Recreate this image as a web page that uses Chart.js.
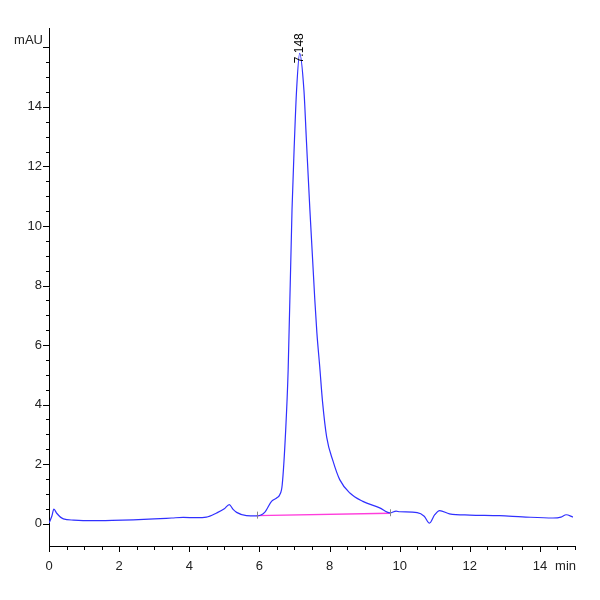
<!DOCTYPE html>
<html>
<head>
<meta charset="utf-8">
<script src="https://cdn.jsdelivr.net/npm/chart.js@4"></script>
<style>
  html, body { margin: 0; padding: 0; background: #fff; }
  #wrap { width: 600px; height: 600px; }
</style>
</head>
<body>
<div id="wrap"><canvas id="chrom" width="600" height="600"></canvas></div>
<script>
    "use strict";

    // Trace (min, mAU)
    var times = [0.00, 0.08, 0.14, 0.22, 0.41, 0.70, 1.17, 1.80, 2.40, 3.00, 3.50, 3.83, 4.20, 4.49,
        4.78, 5.00, 5.14, 5.25, 5.35, 5.63, 5.92, 6.15, 6.345, 6.50, 6.58, 6.65, 6.75,
        6.82, 6.93, 7.00, 7.06, 7.148, 7.27, 7.34, 7.44, 7.58, 7.64, 7.72, 7.80, 7.92, 8.10, 8.29,
        8.58, 8.95, 9.43, 9.72, 9.90, 10.00, 10.50, 10.70, 10.85, 11.00, 11.14, 11.42, 12.00, 12.85,
        13.50, 14.37, 14.60, 14.75, 14.94];
    var absorbance = [0.02, 0.25, 0.49, 0.35, 0.16, 0.12, 0.10, 0.11, 0.13, 0.16, 0.19, 0.21, 0.20, 0.22,
        0.36, 0.50, 0.64, 0.48, 0.38, 0.27, 0.26, 0.38, 0.75, 0.87, 0.97, 1.30, 3.15,
        5.17, 10.54, 12.89, 14.56, 15.8, 14.56, 12.89, 10.54, 7.52, 6.40, 5.28, 4.10, 2.90, 2.10, 1.48,
        1.03, 0.75, 0.53, 0.36, 0.42, 0.40, 0.37, 0.25, 0.02, 0.30, 0.44, 0.33, 0.29, 0.27,
        0.23, 0.19, 0.22, 0.30, 0.22];

    // Integration baseline
    var baseTimes = [5.92, 9.72];
    var baseValues = [0.27, 0.35];

    var peakTime = 7.148;
    var peakValue = 15.8;

    var font = "'Liberation Sans Narrow', 'Liberation Sans', Arial, sans-serif";

    function toPoints(xs, ys) {
        return xs.map(function (x, i) { return {x: x, y: ys[i]}; });
    }

    // Tick marks, unit labels, peak label
    var decorations = {
        id: 'decorations',
        afterDraw: function (chart) {
            var ctx = chart.ctx;
            var xs = chart.scales.x, ys = chart.scales.y;
            var area = chart.chartArea;
            ctx.save();
            ctx.strokeStyle = '#000';
            ctx.lineWidth = 1;
            ctx.beginPath();
            xs.ticks.forEach(function (t) {
                if (Math.abs(t.value * 2 - Math.round(t.value * 2)) > 1e-6) return;
                var px = Math.round(xs.getPixelForValue(t.value)) + 0.5;
                var len = (Math.abs(t.value % 2) < 1e-6) ? 6 : 4;
                ctx.moveTo(px, area.bottom);
                ctx.lineTo(px, area.bottom + len);
            });
            ys.ticks.forEach(function (t) {
                if (Math.abs(t.value * 2 - Math.round(t.value * 2)) > 1e-6) return;
                var py = Math.round(ys.getPixelForValue(t.value)) + 0.5;
                var len = (Math.abs(t.value % 2) < 1e-6) ? 6 : 3;
                ctx.moveTo(area.left, py);
                ctx.lineTo(area.left - len, py);
            });
            ctx.stroke();

            ctx.fillStyle = '#222';
            ctx.font = '13px ' + font;
            ctx.textAlign = 'right';
            ctx.textBaseline = 'middle';
            ctx.fillText('mAU', area.left - 6, ys.getPixelForValue(16) - 7);
            ctx.fillText('min', area.right + 1, area.bottom + 20);

            // baseline end markers
            ctx.strokeStyle = '#888';
            ctx.beginPath();
            baseTimes.forEach(function (t, i) {
                var px = Math.round(xs.getPixelForValue(t)) + 0.5;
                var py = ys.getPixelForValue(baseValues[i]);
                ctx.moveTo(px, py - 4);
                ctx.lineTo(px, py + 3);
            });
            ctx.stroke();

            // peak retention time
            var ppx = xs.getPixelForValue(peakTime);
            var ppy = ys.getPixelForValue(peakValue);
            ctx.translate(ppx, ppy + 10);
            ctx.rotate(-Math.PI / 2);
            ctx.fillStyle = '#000';
            ctx.font = '12px ' + font;
            ctx.textAlign = 'left';
            ctx.textBaseline = 'middle';
            ctx.fillText(peakTime.toFixed(3), 0, 0);
            ctx.restore();
        }
    };

    var ctx1 = document.getElementById('chrom').getContext('2d');
    var chromChart = new Chart(ctx1, {
        type: 'line',
        data: {
            datasets: [{
                label: 'Trace',
                data: toPoints(times, absorbance),
                borderColor: '#3030ff',
                borderWidth: 1.2,
                pointRadius: 0,
                fill: false,
                tension: 0.4,
                cubicInterpolationMode: 'monotone'
            }, {
                label: 'Baseline',
                data: toPoints(baseTimes, baseValues),
                borderColor: '#ff3ddc',
                borderWidth: 1.3,
                pointRadius: 0,
                fill: false
            }]
        },
        options: {
            responsive: false,
            animation: false,
            parsing: false,
            layout: {padding: {top: 28, right: 25, left: 0, bottom: 0}},
            plugins: {
                legend: {display: false},
                tooltip: {enabled: false}
            },
            scales: {
                x: {
                    type: 'linear',
                    min: 0,
                    max: 15,
                    afterFit: function (s) { s.height = 54; },
                    border: {display: true, color: '#000', width: 1},
                    grid: {display: true, drawOnChartArea: false, drawTicks: true, tickLength: 6, tickColor: 'rgba(0,0,0,0)'},
                    ticks: {
                        stepSize: 0.5,
                        autoSkip: false,
                        maxRotation: 0,
                        padding: 7,
                        color: '#222',
                        font: {family: font, size: 13},
                        callback: function (v) {
                            return (Math.abs(v % 2) < 1e-6 && v <= 14) ? String(v) : '';
                        }
                    }
                },
                y: {
                    type: 'linear',
                    min: -0.75,
                    max: 16.65,
                    afterFit: function (s) { s.width = 49; },
                    border: {display: true, color: '#000', width: 1},
                    grid: {display: true, drawOnChartArea: false, drawTicks: true, tickLength: 6, tickColor: 'rgba(0,0,0,0)'},
                    ticks: {
                        stepSize: 0.5,
                        autoSkip: false,
                        padding: 1,
                        color: '#222',
                        font: {family: font, size: 13},
                        callback: function (v) {
                            return (Math.abs(v % 2) < 1e-6 && v >= 0 && v <= 14) ? String(v) : '';
                        }
                    }
                }
            }
        },
        plugins: [decorations]
    });
</script>
</body>
</html>
